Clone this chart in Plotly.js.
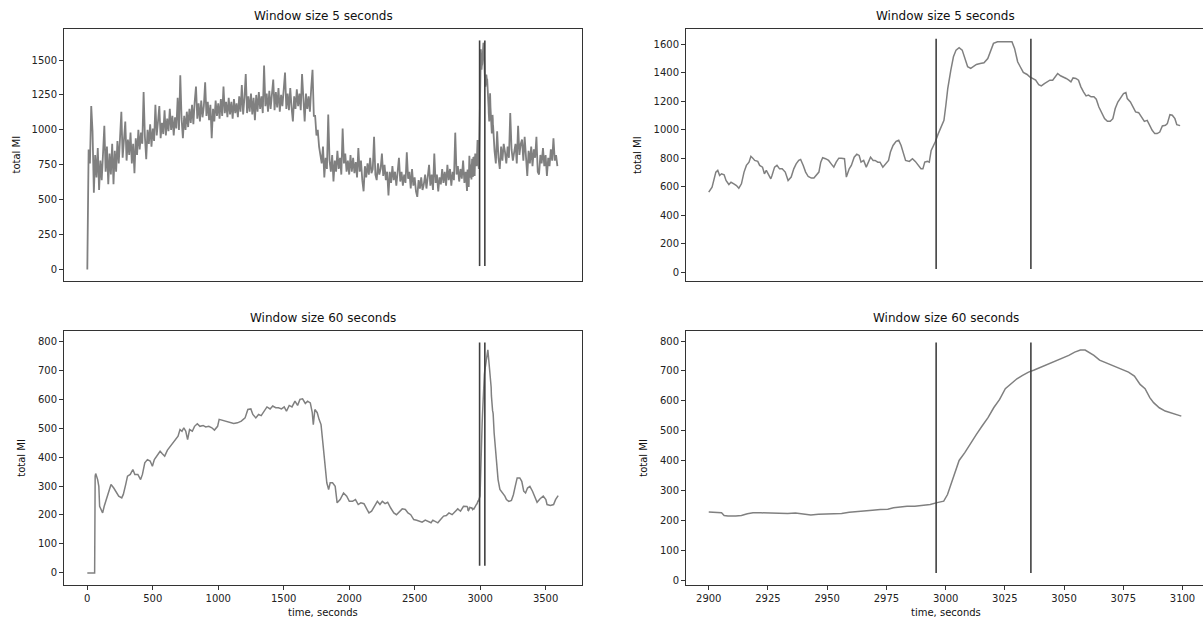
<!DOCTYPE html>
<html>
<head>
<meta charset="utf-8">
<script src="https://cdn.plot.ly/plotly-3.0.1.min.js"></script>
<style>
html,body{margin:0;padding:0;overflow:hidden;background:#fff;}
#chart{width:1210px;height:623px;}
</style>
</head>
<body>
<div id="chart"></div>
<script>
// ---------- DATA ----------
const titleTop = "Window size 5 seconds";
const titleBottom = "Window size 60 seconds";
const yLabel = "total MI";
const xLabel = "time, seconds";

// event markers (vertical lines)
const eventTimes = [2996, 3036];
const eventSpanTop = [25, 1640];
const eventSpanBottom = [25, 795];

// 5-second window, full hour (part 1: 0 .. 2890 s)
const tl_t1 = [
0,10,20,30,40,50,60,70,80,90,
100,110,120,130,140,150,160,170,180,190,
200,210,220,230,240,250,260,270,280,290,
300,310,320,330,340,350,360,370,380,390,
400,410,420,430,440,450,460,470,480,490,
500,510,520,530,540,550,560,570,580,590,
600,610,620,630,640,650,660,670,680,690,
700,710,720,730,740,750,760,770,780,790,
800,810,820,830,840,850,860,870,880,890,
900,910,920,930,940,950,960,970,980,990,
1000,1010,1020,1030,1040,1050,1060,1070,1080,1090,
1100,1110,1120,1130,1140,1150,1160,1170,1180,1190,
1200,1210,1220,1230,1240,1250,1260,1270,1280,1290,
1300,1310,1320,1330,1340,1350,1360,1370,1380,1390,
1400,1410,1420,1430,1440,1450,1460,1470,1480,1490,
1500,1510,1520,1530,1540,1550,1560,1570,1580,1590,
1600,1610,1620,1630,1640,1650,1660,1670,1680,1690,
1700,1710,1720,1730,1740,1750,1760,1770,1780,1790,
1800,1810,1820,1830,1840,1850,1860,1870,1880,1890,
1900,1910,1920,1930,1940,1950,1960,1970,1980,1990,
2000,2010,2020,2030,2040,2050,2060,2070,2080,2090,
2100,2110,2120,2130,2140,2150,2160,2170,2180,2190,
2200,2210,2220,2230,2240,2250,2260,2270,2280,2290,
2300,2310,2320,2330,2340,2350,2360,2370,2380,2390,
2400,2410,2420,2430,2440,2450,2460,2470,2480,2490,
2500,2510,2520,2530,2540,2550,2560,2570,2580,2590,
2600,2610,2620,2630,2640,2650,2660,2670,2680,2690,
2700,2710,2720,2730,2740,2750,2760,2770,2780,2790,
2800,2810,2820,2830,2840,2850,2860,2870,2880,2890
];
const tl_v1 = [
0,860,760,1170,990,550,820,660,870,570,
780,640,830,1030,700,880,610,830,680,900,
610,850,700,920,760,960,1130,800,950,1060,
780,930,820,980,760,900,690,940,820,1000,
860,980,900,1270,950,790,1000,900,1040,880,
1010,920,1180,960,1060,1170,940,1050,970,1140,
960,1080,990,1150,1000,1100,960,1090,1010,1230,
1000,1390,1080,940,1100,1000,1130,1020,1150,1050,
1180,1040,1200,1310,1080,1190,1060,1210,1090,1170,
1340,1100,1200,1070,1180,940,1150,1060,1210,1100,
1190,1080,1220,1100,1310,1120,1200,1090,1230,1110,
1200,1080,1220,1120,1190,1090,1240,1130,1320,1110,
1230,1400,1120,1240,1130,1260,1110,1230,1070,1250,
1130,1270,1150,1240,1120,1460,1170,1260,1130,1280,
1150,1250,1360,1140,1270,1160,1300,1130,1250,1170,
1280,1410,1150,1260,1140,1300,1160,1060,1240,1150,
1290,1170,1260,1140,1400,1180,1060,1260,1150,1240,
1130,1300,1430,1100,1100,960,1000,880,830,760,
880,660,800,720,1110,780,700,820,630,780,
700,850,720,800,680,1010,760,830,700,780,
680,820,700,800,690,770,660,870,700,780,
640,560,740,660,760,680,800,690,720,950,
680,640,760,680,720,830,670,750,640,700,
530,700,620,740,640,700,600,720,800,630,
700,600,680,620,840,650,700,580,720,600,
660,560,520,640,580,660,570,610,680,580,
650,750,600,680,570,830,620,680,560,660,
610,720,620,700,600,750,640,720,600,700,
640,980,680,740,630,720,650,780,620,700
];

// 5-second window, zoomed event (2900 .. 3099 s)
const tr_t = [
2900,2901.4,2903,2903.8,2904.6,2905.4,2906.5,2907.3,2908.5,2909.4,
2910.6,2911.7,2912.7,2913.8,2914.9,2915.9,2917,2917.8,2918.6,2919.4,
2920.7,2921.5,2922.7,2923.5,2924.3,2925.1,2926.2,2926.7,2927.8,2928.8,
2929.9,2931,2932.3,2933.5,2934.8,2935.9,2936.9,2938,2938.8,2939.9,
2940.9,2942,2943.3,2944.4,2945.7,2946.5,2947.3,2948.1,2949.3,2950.6,
2951.7,2952.8,2953.8,2954.9,2956,2957.3,2958.1,2959.3,2960.2,2961.4,
2962.5,2963.5,2964.3,2965.4,2966.5,2967.5,2968.3,2969.4,2970.2,2971.4,
2972.3,2973.5,2974.8,2975.9,2976.7,2977.8,2979.1,2980.2,2981.2,2982.3,
2983.1,2984.7,2986,2987.2,2988.3,2989.6,2990.4,2991.2,2992.3,2993.1,
2993.9,2994.7,2995.6,2996.9,2998.1,2999.3,3000.1,3000.9,3002.2,3003.3,
3004.4,3005.7,3007,3008.1,3009.3,3010.6,3011.9,3013,3014.6,3016.2,
3017.8,3019,3020.2,3021.9,3023.5,3025.1,3026.7,3028,3029.1,3030.4,
3031.5,3032.8,3034.4,3035.5,3036.7,3038,3039.3,3040.4,3041.7,3042.8,
3044,3045.2,3046.4,3047.3,3048.5,3049.8,3050.9,3052,3052.9,3053.8,
3055,3056.1,3057.1,3058.2,3059.3,3060.3,3061.4,3062.6,3063.6,3064.7,
3065.8,3067.1,3068.3,3069.5,3070.6,3071.6,3072.7,3073.8,3075.1,3076.1,
3076.7,3078,3079.1,3080.2,3081.5,3082.8,3083.9,3085.1,3086,3087.2,
3088.3,3089.3,3090.4,3091.5,3092.8,3093.6,3094.7,3095.7,3096.8,3097.6,
3099
];
const tr_v = [
563,598,704,716,680,692,685,645,617,633,
622,610,591,622,704,751,774,815,802,786,
779,751,739,692,716,692,657,680,739,751,
727,727,704,645,669,727,762,786,793,751,
704,673,662,662,692,704,774,805,798,786,
762,739,774,802,802,798,669,727,751,809,
830,821,774,786,739,774,809,786,786,774,
774,739,762,786,845,891,920,927,891,821,
786,779,798,779,751,727,727,774,779,774,
856,880,915,974,1021,1068,1173,1290,1419,1513,
1560,1577,1560,1501,1443,1431,1443,1459,1466,1471,
1501,1560,1607,1619,1619,1623,1619,1619,1572,1478,
1443,1403,1389,1372,1361,1349,1318,1309,1325,1337,
1349,1349,1372,1396,1380,1372,1361,1349,1337,1365,
1361,1349,1302,1267,1239,1244,1232,1232,1215,1161,
1121,1079,1060,1060,1079,1150,1196,1225,1255,1262,
1220,1196,1161,1126,1121,1084,1060,1067,1032,997,
974,974,985,1028,1032,1044,1107,1103,1079,1037,
1030
];

// 5-second window, full hour (part 2: 3110 .. 3590 s)
const tl_t2 = [
3110,3120,3130,3140,3150,3160,3170,3180,3190,
3200,3210,3220,3230,3240,3250,3260,3270,3280,3290,
3300,3310,3320,3330,3340,3350,3360,3370,3380,3390,
3400,3410,3420,3430,3440,3450,3460,3470,3480,3490,
3500,3510,3520,3530,3540,3550,3560,3570,3580,3590
];
const tl_v2 = [
850,760,990,800,720,880,780,900,840,
760,880,800,1120,860,780,840,900,760,1030,
820,900,930,780,950,820,670,850,760,880,
740,860,800,950,700,680,820,760,870,740,
820,670,800,740,860,780,940,780,820,740
];

// 60-second window, full hour (part 1: 0 .. 2873 s)
const bl_t1 = [
0,56,60,64,79,88,94,108,117,129,146,167,181,202,219,240,263,275,293,307,
328,348,363,386,407,421,439,459,480,497,512,533,556,571,591,612,635,655,679,693,
708,723,737,752,766,781,802,819,840,860,884,904,928,951,971,995,1007,1030,1059,1088,
1118,1147,1176,1205,1226,1249,1264,1287,1308,1328,1352,1372,1396,1416,1439,1460,1483,1504,1521,1542,
1563,1586,1606,1624,1644,1665,1682,1703,1718,1726,1738,1756,1770,1785,1799,1814,1829,1843,1855,1873,
1893,1908,1931,1957,1981,2001,2025,2048,2069,2089,2113,2136,2151,2171,2195,2215,2235,2253,2274,2294,
2317,2341,2361,2385,2405,2429,2449,2470,2493,2516,2537,2557,2581,2604,2625,2639,2660,2677,2698,2721,
2742,2762,2786,2809,2829,2850,2873
];
const bl_v1 = [
0,0,334,343,322,299,230,219,207,230,253,288,305,293,282,265,259,271,305,334,
340,357,340,340,322,340,380,391,386,368,391,403,420,412,403,424,437,449,460,472,
495,489,501,489,460,495,489,506,515,506,509,504,506,501,493,506,530,527,524,520,
516,518,524,535,564,566,547,535,547,543,558,573,566,576,570,570,566,573,558,578,
573,593,578,599,601,585,593,587,553,512,564,553,530,512,449,368,311,288,311,311,
299,242,253,276,265,247,247,253,236,242,239,219,207,213,233,247,236,247,239,244,
224,207,201,213,221,219,207,201,184,182,178,175,182,178,173,182,178,173,184,196,
198,207,201,213,221,213,230
];

// 60-second window, zoomed event (2900 .. 3099.5 s)
const br_t = [
2900,2902.4,2905.4,2906.5,2908.1,2911.4,2913.8,2916.3,2918.7,2922,
2925.2,2927.6,2930.1,2933.3,2936.6,2939.8,2943.1,2946.3,2949.6,2952.8,
2956.1,2959.3,2962.6,2965.9,2969.1,2972.4,2975.6,2978,2980.5,2983.7,
2987,2990.2,2993.5,2996.4,2999.2,3000.8,3002.4,3004.1,3005.7,3008.1,
3010.6,3013,3015.4,3017.9,3020.3,3022.8,3025.2,3027.6,3030.1,3032.5,
3035,3037.4,3039.8,3042.3,3044.7,3047.2,3049.6,3052,3054.5,3056.9,
3058.9,3060.5,3062.6,3065,3067.5,3069.9,3072.4,3074.8,3077.2,3079.7,
3082.1,3084.2,3086.2,3087.8,3090.2,3092.7,3095.1,3097.6,3099.5
];
const br_v = [
229,228,226,217,215,215,217,223,226,226,
225,226,225,224,225,222,219,221,222,221,
224,228,231,232,235,237,238,243,246,248,
248,251,254,260,265,287,326,365,401,427,
460,488,516,544,577,605,641,658,674,685,
696,703,711,720,728,736,744,752,763,770,
770,763,752,736,728,719,711,705,696,683,
655,641,611,594,577,566,560,555,549
];

// 60-second window, full hour (part 2: 3107 .. 3596 s)
const bl_t2 = [3107,3122,3137,3151,3172,3189,3201,3219,3239,3254,3268,3283,3303,3318,3333,3347,3362,3380,3400,3415,3435,3458,3482,3502,3511,3537,3561,3576,3596];
const bl_v2 = [483,391,322,288,276,265,253,247,250,270,299,328,328,316,282,276,293,299,282,265,244,256,265,253,236,233,236,253,267];

// tick values
const ticksTL = [0,250,500,750,1000,1250,1500];
const ticksTR = [0,200,400,600,800,1000,1200,1400,1600];
const ticksBottomY = [0,100,200,300,400,500,600,700,800];
const ticksBL = [0,500,1000,1500,2000,2500,3000,3500];
const ticksBR = [2900,2925,2950,2975,3000,3025,3050,3075,3100];

// ---------- BUILD ----------
const W = 1210, H = 623;
const px = v => v / W;
const py = v => (H - v) / H;

const seriesColor = '#808080';
const eventColor = '#404040';
const font = 'DejaVu Sans, sans-serif';

function vlines(span) {
  const x = [], y = [];
  eventTimes.forEach((t, i) => {
    if (i) { x.push(null); y.push(null); }
    x.push(t, t); y.push(span[0], span[1]);
  });
  return {x, y};
}

const tlT = tl_t1.concat(tr_t, tl_t2), tlV = tl_v1.concat(tr_v, tl_v2);
const blT = bl_t1.concat(br_t, bl_t2), blV = bl_v1.concat(br_v, bl_v2);

const line = {color: seriesColor, width: 1.5};
const denseLine = {color: seriesColor, width: 1.8};
const evLine = {color: eventColor, width: 1.6};
const vt = vlines(eventSpanTop), vb = vlines(eventSpanBottom);

const traces = [
  {x: tlT, y: tlV, xaxis: 'x', yaxis: 'y', mode: 'lines', line: denseLine},
  {x: vt.x, y: vt.y, xaxis: 'x', yaxis: 'y', mode: 'lines', line: evLine},
  {x: tr_t, y: tr_v, xaxis: 'x2', yaxis: 'y2', mode: 'lines', line},
  {x: vt.x, y: vt.y, xaxis: 'x2', yaxis: 'y2', mode: 'lines', line: evLine},
  {x: blT, y: blV, xaxis: 'x3', yaxis: 'y3', mode: 'lines', line},
  {x: vb.x, y: vb.y, xaxis: 'x3', yaxis: 'y3', mode: 'lines', line: evLine},
  {x: br_t, y: br_v, xaxis: 'x4', yaxis: 'y4', mode: 'lines', line},
  {x: vb.x, y: vb.y, xaxis: 'x4', yaxis: 'y4', mode: 'lines', line: evLine},
];

const frame = {showline: true, mirror: true, linecolor: '#333', linewidth: 1,
  showgrid: false, zeroline: false, fixedrange: true};
const tickStyle = {ticks: 'outside', ticklen: 4, tickwidth: 1, tickcolor: '#333',
  tickfont: {family: font, size: 10, color: '#222'}};

const L = [64, 582], R = [686, 1205];
const T = [29, 281], B = [331, 584.5];

const layout = {
  width: W, height: H,
  margin: {l: 0, r: 0, t: 0, b: 0},
  paper_bgcolor: '#fff', plot_bgcolor: '#fff',
  showlegend: false,
  xaxis: Object.assign({}, frame, {domain: [px(L[0]), px(L[1])], range: [-178, 3778], anchor: 'y', showticklabels: false, ticks: ''}),
  yaxis: Object.assign({}, frame, tickStyle, {domain: [py(T[1]), py(T[0])], range: [-82, 1722], anchor: 'x', tickvals: ticksTL}),
  xaxis2: Object.assign({}, frame, {domain: [px(R[0]), px(R[1])], range: [2890.4, 3109.5], anchor: 'y2', showticklabels: false, ticks: ''}),
  yaxis2: Object.assign({}, frame, tickStyle, {domain: [py(T[1]), py(T[0])], range: [-60, 1708], anchor: 'x2', tickvals: ticksTR}),
  xaxis3: Object.assign({}, frame, tickStyle, {domain: [px(L[0]), px(L[1])], range: [-178, 3778], anchor: 'y3', tickvals: ticksBL}),
  yaxis3: Object.assign({}, frame, tickStyle, {domain: [py(B[1]), py(B[0])], range: [-40, 835], anchor: 'x3', tickvals: ticksBottomY}),
  xaxis4: Object.assign({}, frame, tickStyle, {domain: [px(R[0]), px(R[1])], range: [2890.4, 3109.5], anchor: 'y4', tickvals: ticksBR}),
  yaxis4: Object.assign({}, frame, tickStyle, {domain: [py(B[1]), py(B[0])], range: [-13.5, 833.5], anchor: 'x4', tickvals: ticksBottomY}),
  annotations: []
};

function ann(text, xpx, ypx, size, angle) {
  layout.annotations.push({text, xref: 'paper', yref: 'paper', x: px(xpx), y: py(ypx),
    xanchor: 'center', yanchor: 'middle', showarrow: false, textangle: angle || 0,
    font: {family: font, size, color: '#111'}});
}
const cL = (L[0] + L[1]) / 2, cR = (R[0] + R[1]) / 2;
ann(titleTop, cL, 16, 12);
ann(titleTop, cR, 16, 12);
ann(titleBottom, cL, 318, 12);
ann(titleBottom, cR, 318, 12);
ann(yLabel, 15.5, (T[0] + T[1]) / 2, 10, -90);
ann(yLabel, 637, (T[0] + T[1]) / 2, 10, -90);
ann(yLabel, 22, (B[0] + B[1]) / 2, 10, -90);
ann(yLabel, 644, (B[0] + B[1]) / 2, 10, -90);
ann(xLabel, cL, 612, 10);
ann(xLabel, cR, 612, 10);

Plotly.newPlot('chart', traces, layout, {staticPlot: true, displayModeBar: false});
</script>
</body>
</html>
